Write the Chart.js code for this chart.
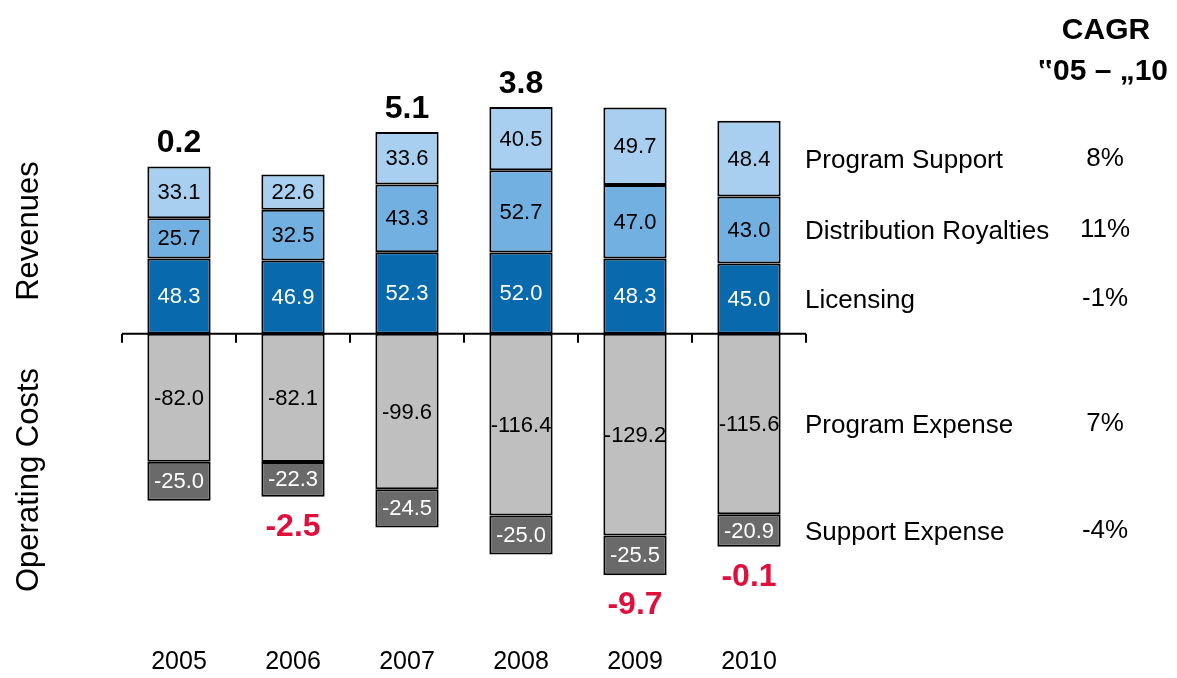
<!DOCTYPE html>
<html><head><meta charset="utf-8">
<script src="https://cdn.jsdelivr.net/npm/chart.js@4/dist/chart.umd.min.js"></script>
<style>html,body{margin:0;padding:0;background:#fff}#wrap{width:1177px;height:678px}</style>
</head><body><div id="wrap"><canvas id="c"></canvas></div>
<script>
const years = ['2005','2006','2007','2008','2009','2010'];
const licensing = [48.3,46.9,52.3,52.0,48.3,45.0];
const distributionRoyalties = [25.7,32.5,43.3,52.7,47.0,43.0];
const programSupport = [33.1,22.6,33.6,40.5,49.7,48.4];
const programExpense = [-82.0,-82.1,-99.6,-116.4,-129.2,-115.6];
const supportExpense = [-25.0,-22.3,-24.5,-25.0,-25.5,-20.9];
const netResult = ['0.2','-2.5','5.1','3.8','-9.7','-0.1'];
const seriesNames = ['Licensing','Distribution Royalties','Program Support','Program Expense','Support Expense'];
const cagrValues = ['-1%','11%','8%','7%','-4%'];
const cagrTitle = ['CAGR','\u201F05 \u2013 \u201E10'];

const FONT = "'Liberation Sans', Arial, sans-serif";
const colors = ['#0869ac','#72b0e1','#a8cff0','#bfbfbf','#6a6a6a'];
const labelColors = ['#ffffff','#000000','#000000','#000000','#ffffff'];
const seriesData = [licensing, distributionRoyalties, programSupport, programExpense, supportExpense];

const overlay = {
  id: 'overlay',
  afterDatasetsDraw(chart) {
    const ctx = chart.ctx;
    const area = chart.chartArea;
    const ys = chart.scales.y;
    const y0 = ys.getPixelForValue(0);
    ctx.save();
    // zero line with tick marks
    ctx.strokeStyle = '#000'; ctx.lineWidth = 2;
    ctx.beginPath(); ctx.moveTo(area.left, y0); ctx.lineTo(area.right, y0); ctx.stroke();
    const step = (area.right - area.left) / years.length;
    ctx.beginPath();
    for (let i = 0; i <= years.length; i++) {
      const x = Math.round(area.left + i * step);
      ctx.moveTo(x, y0); ctx.lineTo(x, y0 + 9);
    }
    ctx.stroke();
    // segment value labels
    ctx.font = '22px ' + FONT; ctx.textAlign = 'center'; ctx.textBaseline = 'middle';
    chart.data.datasets.forEach((ds, di) => {
      const meta = chart.getDatasetMeta(di);
      meta.data.forEach((bar, i) => {
        const yc = (bar.y + bar.base) / 2;
        ctx.fillStyle = labelColors[di];
        ctx.fillText(ds.data[i].toFixed(1), bar.x, yc + 1);
      });
    });
    // net totals
    ctx.font = 'bold 32px ' + FONT;
    const topMeta = chart.getDatasetMeta(2), botMeta = chart.getDatasetMeta(4);
    netResult.forEach((v, i) => {
      if (v.startsWith('-')) {
        ctx.fillStyle = '#e0103c';
        ctx.fillText(v, botMeta.data[i].x, botMeta.data[i].y + 30);
      } else {
        ctx.fillStyle = '#000';
        ctx.fillText(v, topMeta.data[i].x, topMeta.data[i].y - 23);
      }
    });
    // right side series names and CAGR aligned to last bar segments
    const last = years.length - 1;
    ctx.font = '26px ' + FONT;
    seriesNames.forEach((name, di) => {
      const bar = chart.getDatasetMeta(di).data[last];
      const yc = (bar.y + bar.base) / 2;
      ctx.fillStyle = '#000';
      ctx.textAlign = 'left';
      ctx.fillText(name, 805, yc + 2);
      ctx.textAlign = 'center';
      ctx.fillText(cagrValues[di], 1105, yc);
    });
    ctx.font = 'bold 30px ' + FONT;
    ctx.fillText(cagrTitle[0], 1106, 31);
    ctx.fillText(cagrTitle[1], 1103, 72);
    // rotated axis group labels
    ctx.font = '31px ' + FONT;
    ctx.save(); ctx.translate(29, 231); ctx.rotate(-Math.PI/2); ctx.fillText('Revenues', 0, 0); ctx.restore();
    ctx.save(); ctx.translate(29, 480); ctx.rotate(-Math.PI/2); ctx.fillText('Operating Costs', 0, 0); ctx.restore();
    ctx.restore();
  }
};

new Chart(document.getElementById('c'), {
  type: 'bar',
  data: {
    labels: years,
    datasets: seriesData.map((d, i) => ({
      label: seriesNames[i], data: d, backgroundColor: colors[i],
      borderColor: '#000', borderWidth: 2, borderSkipped: false, stack: 's',
      categoryPercentage: 1, barPercentage: 0.555
    }))
  },
  options: {
    responsive: true, maintainAspectRatio: false, animation: false,
    layout: { padding: { left: 122, right: 371, top: 84, bottom: 0 } },
    plugins: { legend: { display: false }, tooltip: { enabled: false } },
    scales: {
      x: { stacked: true, grid: { display: false, drawTicks: false, tickLength: 0 }, border: { display: false },
           ticks: { padding: 1, color: '#000', font: { family: FONT, size: 25 } } },
      y: { stacked: true, display: false, min: -200, max: 160 }
    }
  },
  plugins: [overlay]
});
</script></body></html>
